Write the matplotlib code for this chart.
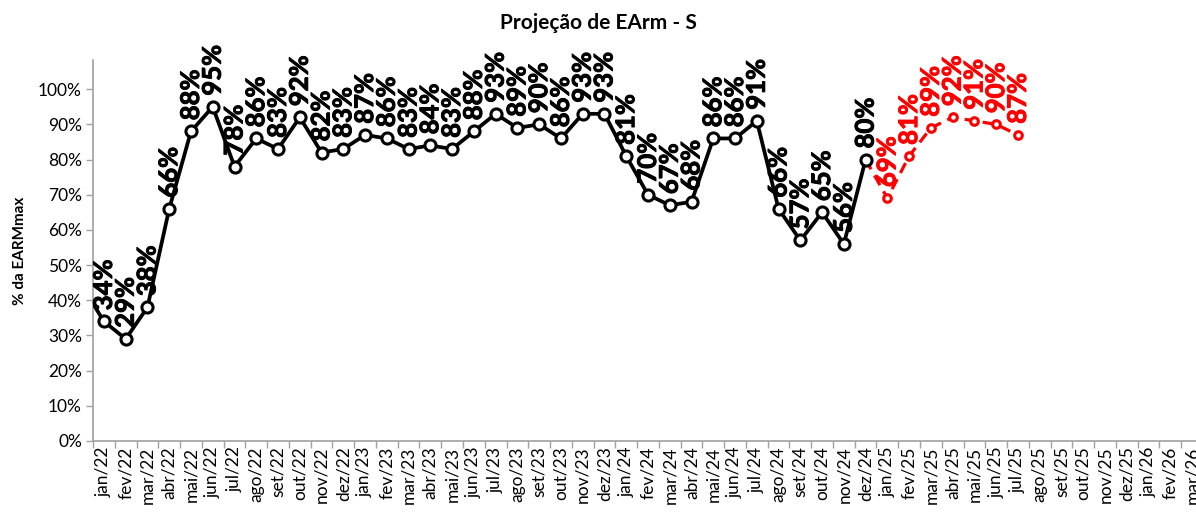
import matplotlib
matplotlib.use("Agg")
import matplotlib.pyplot as plt
import matplotlib.patheffects as pe

plt.rcParams['font.family'] = ['Lato', 'DejaVu Sans']

# Monthly categories (dez/21 is the lead-in point, clipped at the axis edge)
months = ["dez/21",
          "jan/22", "fev/22", "mar/22", "abr/22", "mai/22", "jun/22",
          "jul/22", "ago/22", "set/22", "out/22", "nov/22", "dez/22",
          "jan/23", "fev/23", "mar/23", "abr/23", "mai/23", "jun/23",
          "jul/23", "ago/23", "set/23", "out/23", "nov/23", "dez/23",
          "jan/24", "fev/24", "mar/24", "abr/24", "mai/24", "jun/24",
          "jul/24", "ago/24", "set/24", "out/24", "nov/24", "dez/24",
          "jan/25", "fev/25", "mar/25", "abr/25", "mai/25", "jun/25",
          "jul/25", "ago/25", "set/25", "out/25", "nov/25", "dez/25",
          "jan/26", "fev/26", "mar/26"]

# Verified storage (% of EARMmax), dez/21 .. dez/24
verified = [44,
            34, 29, 38, 66, 88, 95, 78, 86, 83, 92, 82, 83,
            87, 86, 83, 84, 83, 88, 93, 89, 90, 86, 93, 93,
            81, 70, 67, 68, 86, 86, 91, 66, 57, 65, 56, 80]

# Projection (% of EARMmax), dez/24 .. jul/25
projected = [80, 69, 81, 89, 92, 91, 90, 87]

x_ver = list(range(len(verified)))
x_proj = list(range(len(verified) - 1, len(verified) - 1 + len(projected)))

fig = plt.figure(figsize=(11.96, 5.15), dpi=100)
ax = fig.add_axes([0.0778, 0.1437, 0.928, 0.7398])

ax.plot(x_proj, projected, color="#FF0000", lw=2.3, ls=(0, (3.5, 2.2)),
        marker="o", ms=5.5, mfc="white", mec="#FF0000", mew=2.2,
        markevery=list(range(1, len(projected))), zorder=2)
ax.plot(x_ver, verified, color="black", lw=2.7,
        marker="o", ms=8, mfc="white", mec="black", mew=2.2, zorder=3)

label_kw = dict(textcoords="offset points", rotation=90, ha="center",
                va="bottom", fontsize=18.5, fontweight="bold", zorder=4)
for xi, v in zip(x_ver[1:], verified[1:]):
    t = ax.annotate(f"{v}%", (xi, v), xytext=(0, 8), color="black", **label_kw)
    t.set_path_effects([pe.withStroke(linewidth=0.7, foreground="black")])
for xi, v in zip(x_proj[1:], projected[1:]):
    t = ax.annotate(f"{v}%", (xi, v), xytext=(0, 8), color="#FF0000", **label_kw)
    t.set_path_effects([pe.withStroke(linewidth=0.7, foreground="#FF0000")])

ax.set_xlim(0.5, len(months) - 0.5)
ax.set_ylim(0, 108.3)
ax.set_yticks(range(0, 101, 10))
ax.set_yticklabels([f"{t}%" for t in range(0, 101, 10)], fontsize=12.5)
ax.set_xticks(range(1, len(months)))
ax.set_xticklabels(months[1:], rotation=90, fontsize=12.5)
ax.set_xticks([i + 0.5 for i in range(0, len(months))], minor=True)
ax.tick_params(axis="x", which="major", length=0, pad=4)
ax.tick_params(axis="x", which="minor", length=5, color="#A0A0A0", width=1)
ax.tick_params(axis="y", length=5, color="#A0A0A0", width=1, pad=3)

for side in ("top", "right"):
    ax.spines[side].set_visible(False)
for side in ("left", "bottom"):
    ax.spines[side].set_color("#A0A0A0")
    ax.spines[side].set_linewidth(1.2)

ax.set_ylabel("% da EARMmax", fontsize=11, fontweight="bold", labelpad=8)
fig.text(0.5, 0.955, "Projeção de EArm - S", ha="center", va="center",
         fontsize=15, fontweight="bold")

fig.savefig("out.png", dpi=100)
